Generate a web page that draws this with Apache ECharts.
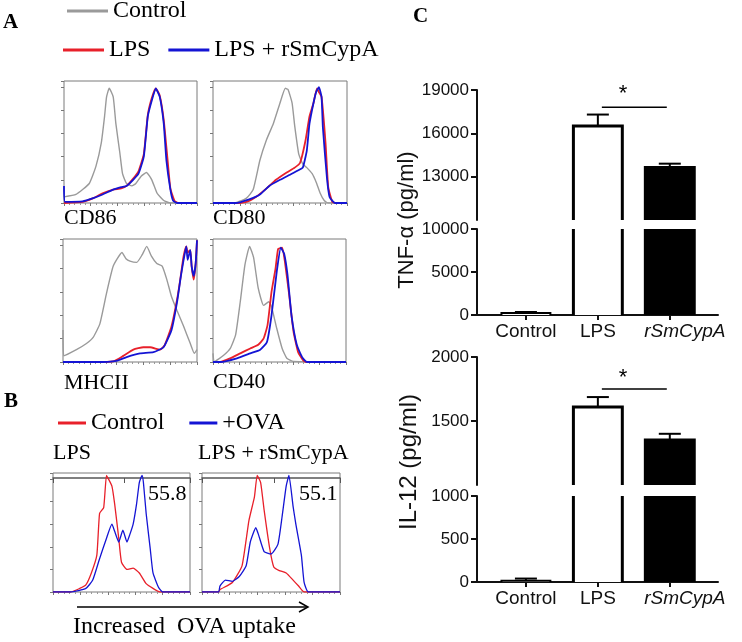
<!DOCTYPE html>
<html>
<head>
<meta charset="utf-8">
<script src="https://cdn.jsdelivr.net/npm/echarts@6/dist/echarts.min.js"></script>
<style>html,body{margin:0;padding:0;background:#fff}#c{width:742px;height:642px}</style>
</head>
<body>
<div id="c"></div>
<script>
// ---------- DATA ----------
// Panel A histograms: [x (% of channel range), y (% of max count)]
const cd86Control = [[0,5],[9,7],[19,16],[24,30],[28,49],[30.5,71],[32,87],[34,94],[37,87],[39,65],[42,41],[44,24],[47,16],[51,14],[54,16],[58,22],[62,25],[66,19],[70,8],[75,2],[80,0],[100,0]];
const cd86Lps = [[0,0],[14,1],[22,4],[29,8],[37,11],[43,12],[47,14],[52,20],[56,26],[60,40],[63,72],[66,86],[69,94],[72,88],[75,68],[78,34],[80,12],[83,2],[86,0],[100,0]];
const cd86Cyp = [[0,14],[0.8,1],[14,1.4],[22,4],[29,7],[37,11],[43,13],[47,14],[52,19],[56,24],[60,38],[63,71],[66,84],[69,94],[72,87],[75,65],[77,35],[80,11],[82,2],[85,0],[100,0]];

const cd80Control = [[0,0],[16,0],[25,4],[30,11],[35,35],[40,52],[45,65],[50,82],[54,94],[56,93],[59,82],[61,63],[64,40],[67,32],[70,29],[74,24],[77,17],[80,8],[83,2],[86,0],[100,0]];
const cd80Lps = [[0,0],[16,0],[25,1],[32,5],[40,12],[47,19],[55,25],[61,29],[65,33],[69,51],[72,71],[75,82],[77.6,94],[79,91],[81,87],[84,49],[86,13],[89,1],[92,0],[100,0]];
const cd80Cyp = [[0,0],[17,0],[27,3],[35,7],[42,14],[50,19],[57,23],[64,27],[67,29],[70,43],[72,65],[75,82],[77,91],[79,95],[81,87],[82,62],[85,21],[87,5],[91,0],[100,0]];

const mhcControl = [[0,26],[0.5,5],[10,10],[17.5,15],[22.5,20],[27.5,31],[32.5,56],[37.5,78],[44,89],[47,84],[50,82],[55,81],[59,87],[62.5,94],[66,86],[70,80],[74,78],[77.5,67],[81,53],[85,42],[90,29],[95,15],[98,7],[100,10]];
const mhcLps = [[0,0],[22.5,0],[37.5,0.5],[45,5],[52.5,10],[60,12],[65,12],[72.5,10],[76,14],[81,29],[85,50],[87.5,67],[90,86],[92,94],[93,89],[95,91],[96,78],[97.5,67],[99,80],[100,99]];
const mhcCyp = [[0,0],[25,0],[40,1],[47.5,4],[57.5,7],[67.5,8],[75,12],[81,26],[85,48],[88,70],[90,83],[92,94],[93,83],[95,91],[96,78],[97.5,70],[99,80],[100,99]];

const cd40Control = [[0,7],[1,0.5],[8,5.5],[13,11],[17,22],[20.5,49],[24,79],[27.5,94],[30.5,85],[34,60],[38,46],[42,49],[44,45],[48,27],[52,11],[55.5,3],[60.5,0.5],[100,0]];
const cd40Lps = [[0,0],[5.5,0],[13,3],[20.5,7],[28,11],[34,14],[38,19],[41,30],[44,57],[47,76],[49,92],[52,93],[54,82],[57,57],[60.5,25],[64,8],[68,1],[70.5,0],[100,0]];
const cd40Cyp = [[0,0],[5.5,0],[18,3],[28,7],[35.5,10],[40.5,16],[44,38],[48,74],[51,93],[53.5,88],[56,71],[59,38],[63,14],[67,4],[70.5,0],[100,0]];

// Panel B histograms
const bLpsControl = [[0,0],[13,0],[19.5,3],[24,6],[28,16],[32,31],[34,66],[37,71],[39,98],[40,96],[43,89],[45,74],[48,45],[50,25],[54,19],[58.5,20],[63,16],[68,7],[73,3],[78,0],[100,0]];
const bLpsOva = [[0,0],[13,0],[24,3],[29,10],[34,28],[39,45],[43,57],[45,51],[48,42],[51,52],[54,42],[56,48],[58.5,57],[61,74],[63,92],[65,98],[66,92],[68,66],[71,36],[73,16],[77,4],[80,0],[100,0]];
const bCypControl = [[0,0],[12,0],[13,2],[22,8],[29,22],[34,60],[38,80],[40,98],[42.5,92],[45,69],[49,37],[52,21],[56,18],[61,16],[66,10],[70,5],[74,0],[100,0]];
const bCypOva = [[0,0],[12,0],[13,5],[17,10],[22,9],[27,13],[32,22],[35,42],[39,54],[41,48],[45,34],[50,32],[55,40],[58,63],[61,89],[63,98],[66,72],[68,57],[72,31],[74,8],[77,0],[100,0]];
const bPercent = ['55.8', '55.1'];

// Panel C bar data
const categories = ['Control', 'LPS', 'rSmCypA'];
const tnfMean = [220, 16500, 13640];
const tnfSem = [130, 800, 260];
const il12Mean = [15, 1610, 1352];
const il12Sem = [25, 77, 48];
const tnfUpperTicks = [13000, 16000, 19000];
const il12UpperTicks = [1500, 2000];
const tnfSig = [1, 2, 17800, 18700];   // from cat, to cat, line value, star value
const il12Sig = [1, 2, 1750, 1840];

// ---------- STYLE ----------
const SERIF = "'Liberation Serif','Times New Roman',serif";
const SANS = "'Liberation Sans',Arial,sans-serif";
const GRAY = '#9a9a9a', RED = '#e8202a', BLUE = '#1414d4';
const barFill = ['#ffffff', '#ffffff', '#000000'];
const barBorder = [2, 3, 3];
const legendText = {ctrlA: 'Control', lpsA: 'LPS', cypA: 'LPS + rSmCypA', ctrlB: 'Control', ovaB: '+OVA'};

const chart = echarts.init(document.getElementById('c'), null, {renderer: 'canvas'});

const histGrids = [
  {left: 64, top: 81, width: 133, height: 122},
  {left: 213, top: 81, width: 134, height: 122},
  {left: 63, top: 239, width: 134, height: 123},
  {left: 213, top: 239, width: 133, height: 123},
  {left: 53, top: 473, width: 137, height: 119},
  {left: 202, top: 473, width: 138, height: 119}
];
const barGrids = [
  {left: 477, top: 90, width: 241, height: 130},
  {left: 477, top: 229, width: 241, height: 86},
  {left: 477, top: 357, width: 241, height: 128},
  {left: 477, top: 496, width: 241, height: 86}
];
const grid = histGrids.map(g => Object.assign({show: true, borderColor: '#7a7a7a', borderWidth: 1, backgroundColor: 'transparent'}, g))
  .concat(barGrids.map(g => Object.assign({show: false}, g)));

const xAxis = [], yAxis = [];
histGrids.forEach((g, i) => {
  xAxis.push({gridIndex: i, type: 'value', min: 0, max: 100, interval: 20,
    axisLine: {show: false, onZero: false}, axisLabel: {show: false}, splitLine: {show: false},
    axisTick: {show: true, length: 3, lineStyle: {color: '#777'}},
    minorTick: {show: true, splitNumber: 5, length: 2, lineStyle: {color: '#999'}}});
  yAxis.push({gridIndex: i, type: 'value', min: 0, max: 100, interval: 19,
    axisLine: {show: false, onZero: false}, axisLabel: {show: false}, splitLine: {show: false},
    axisTick: {show: true, length: 3, lineStyle: {color: '#777'}}});
});
const axisBlack = {color: '#111', width: 2};
[0, 1, 2, 3].forEach(k => {
  const lower = (k % 2 === 1);
  xAxis.push({gridIndex: 6 + k, type: 'value', min: -0.68, max: 2.67, show: lower,
    axisLine: {show: true, onZero: false, lineStyle: axisBlack},
    axisTick: {show: true, customValues: [0, 1, 2], length: 5, lineStyle: axisBlack},
    splitLine: {show: false},
    axisLabel: {customValues: [0, 1, 2], margin: 7, fontFamily: SANS, fontSize: 19, color: '#111',
      formatter: v => { const c = categories[Math.round(v)]; return Math.round(v) === 2 ? '{it|' + c + '}' : c; },
      rich: {it: {fontStyle: 'italic', fontFamily: SANS, fontSize: 19, color: '#111', padding: [0, 0, 0, 30]}}}
  });
});
const barY = [
  {min: 10000, max: 19000, custom: tnfUpperTicks},
  {min: 0, max: 10000, interval: 5000},
  {min: 1000, max: 2000, custom: il12UpperTicks},
  {min: 0, max: 1000, interval: 500}
];
barY.forEach((b, k) => {
  const ax = {gridIndex: 6 + k, type: 'value', min: b.min, max: b.max,
    axisLine: {show: true, onZero: false, lineStyle: axisBlack},
    axisTick: {show: true, length: 6, lineStyle: axisBlack},
    splitLine: {show: false},
    axisLabel: {margin: 8, fontFamily: SANS, fontSize: 17, color: '#111', formatter: v => String(v)}};
  if (b.custom) { ax.axisTick.customValues = b.custom; ax.axisLabel.customValues = b.custom; }
  else ax.interval = b.interval;
  yAxis.push(ax);
});
// top gate axes for panel B
[4, 5].forEach(i => {
  xAxis.push({gridIndex: i, type: 'value', position: 'top', min: 0, max: 100, offset: -5,
    axisLine: {show: true, onZero: false, lineStyle: {color: '#555', width: 1.5}},
    axisTick: {show: true, inside: true, customValues: [0, 52, 100], length: 5, lineStyle: {color: '#555'}},
    axisLabel: {show: false}, splitLine: {show: false}});
});

function hist(name, data, color, gi, w) {
  return {type: 'line', name, data, xAxisIndex: gi, yAxisIndex: gi, symbol: 'none', showSymbol: false,
    smooth: 0.15, silent: true, lineStyle: {color, width: w}, itemStyle: {color}};
}
const series = [];
[[cd86Control, cd86Lps, cd86Cyp], [cd80Control, cd80Lps, cd80Cyp], [mhcControl, mhcLps, mhcCyp], [cd40Control, cd40Lps, cd40Cyp]]
  .forEach((set, gi) => {
    series.push(hist('ctrlA', set[0], GRAY, gi, 1.4));
    series.push(hist('lpsA', set[1], RED, gi, 1.8));
    series.push(hist('cypA', set[2], BLUE, gi, 1.8));
  });
[[bLpsControl, bLpsOva], [bCypControl, bCypOva]].forEach((set, k) => {
  series.push(hist('ctrlB', set[0], RED, 4 + k, 1.3));
  series.push(hist('ovaB', set[1], BLUE, 4 + k, 1.3));
});

function barRender(params, api) {
  const i = api.value(0), v = api.value(1);
  const cs = params.coordSys;
  const top = cs.y, bottom = cs.y + cs.height;
  const p = api.coord([i, v]);
  if (p[1] > bottom) return null;
  const half = api.size([1, 0])[0] * 0.34;
  const clipped = p[1] < top;
  const y = clipped ? top : p[1];
  const l = p[0] - half, r = p[0] + half;
  const lw = barBorder[i];
  const children = [{type: 'rect', shape: {x: l, y: y, width: r - l, height: bottom - y}, style: {fill: barFill[i]}}];
  if (clipped) {
    children.push({type: 'line', shape: {x1: l, y1: y, x2: l, y2: bottom}, style: {stroke: '#000', lineWidth: lw}});
    children.push({type: 'line', shape: {x1: r, y1: y, x2: r, y2: bottom}, style: {stroke: '#000', lineWidth: lw}});
  } else {
    children.push({type: 'polyline', shape: {points: [[l, bottom], [l, y], [r, y], [r, bottom]]}, style: {stroke: '#000', lineWidth: lw, fill: null}});
  }
  return {type: 'group', children};
}
function errRender(params, api) {
  const i = api.value(0), v = api.value(1), e = api.value(2);
  const cs = params.coordSys;
  const p0 = api.coord([i, v]), p1 = api.coord([i, v + e]);
  if (p0[1] < cs.y - 0.5 || p0[1] > cs.y + cs.height + 0.5) return null;
  return {type: 'group', children: [
    {type: 'line', shape: {x1: p0[0], y1: p0[1], x2: p1[0], y2: p1[1]}, style: {stroke: '#000', lineWidth: 2}},
    {type: 'line', shape: {x1: p1[0] - 11, y1: p1[1], x2: p1[0] + 11, y2: p1[1]}, style: {stroke: '#000', lineWidth: 2}}
  ]};
}
function sigRender(params, api) {
  const a = api.value(0), b = api.value(1), yl = api.value(2), ys = api.value(3);
  const p1 = api.coord([a, yl]), p2 = api.coord([b, yl]);
  const ps = api.coord([(a + b) / 2 - 0.15, ys]);
  return {type: 'group', children: [
    {type: 'line', shape: {x1: p1[0] + 4, y1: p1[1], x2: p2[0] - 3, y2: p2[1]}, style: {stroke: '#000', lineWidth: 1.5}},
    {type: 'text', x: ps[0], y: ps[1], style: {text: '*', fontFamily: SANS, fontSize: 22, fill: '#000', align: 'center', verticalAlign: 'middle'}}
  ]};
}
const tnfBars = categories.map((c, i) => [i, tnfMean[i]]);
const tnfErr = categories.map((c, i) => [i, tnfMean[i], tnfSem[i]]);
const ilBars = categories.map((c, i) => [i, il12Mean[i]]);
const ilErr = categories.map((c, i) => [i, il12Mean[i], il12Sem[i]]);
[[tnfBars, tnfErr, tnfSig, 6], [ilBars, ilErr, il12Sig, 8]].forEach(([bars, errs, sig, g0]) => {
  [g0, g0 + 1].forEach(g => {
    series.push({type: 'custom', name: 'bar' + g, xAxisIndex: g, yAxisIndex: g, data: bars, renderItem: barRender, silent: true, z: 2});
    series.push({type: 'custom', name: 'err' + g, xAxisIndex: g, yAxisIndex: g, data: errs, renderItem: errRender, silent: true, z: 3});
  });
  series.push({type: 'custom', name: 'sig' + g0, xAxisIndex: g0, yAxisIndex: g0, data: [sig], renderItem: sigRender, silent: true, z: 4});
});

const legendBase = {padding: 0, icon: 'rect', itemHeight: 3, selectedMode: false,
  formatter: n => legendText[n], textStyle: {fontFamily: SERIF, fontSize: 24, color: '#000'}};
const legend = [
  Object.assign({}, legendBase, {data: ['ctrlA'], left: 67, top: -1, itemWidth: 41}),
  Object.assign({}, legendBase, {data: ['lpsA', 'cypA'], left: 63, top: 38, itemWidth: 41, itemGap: 18}),
  Object.assign({}, legendBase, {data: ['ctrlB', 'ovaB'], left: 58, top: 411, itemWidth: 28, itemGap: 25})
];

function txt(x, y, text, size, opts) {
  return {type: 'text', x, y, silent: true, style: Object.assign({text, fontFamily: SERIF, fontSize: size, fill: '#000', align: 'left', verticalAlign: 'middle'}, opts || {})};
}
const graphic = [
  txt(3, 23, 'A', 21, {fontWeight: 'bold'}),
  txt(4, 402, 'B', 21, {fontWeight: 'bold'}),
  txt(413, 17, 'C', 21, {fontWeight: 'bold'}),
  txt(64, 218, 'CD86', 22), txt(213, 218, 'CD80', 22),
  txt(64, 383, 'MHCII', 22), txt(213, 382, 'CD40', 22),
  txt(53, 453, 'LPS', 22), txt(198, 453, 'LPS + rSmCypA', 22),
  txt(148, 494, bPercent[0], 22), txt(299, 494, bPercent[1], 22),
  txt(73, 627, 'Increased  OVA uptake', 24),
  {type: 'polyline', silent: true, shape: {points: [[77, 607], [307, 607]]}, style: {stroke: '#000', lineWidth: 1.5}},
  {type: 'polyline', silent: true, shape: {points: [[299, 602], [308, 607], [299, 612]]}, style: {stroke: '#000', lineWidth: 1.5, fill: null}},
  {type: 'text', x: 407, y: 220, rotation: Math.PI / 2, silent: true, style: {text: 'TNF-α (pg/ml)', fontFamily: SANS, fontSize: 22, fill: '#111', align: 'center', verticalAlign: 'middle'}},
  {type: 'text', x: 409, y: 462, rotation: Math.PI / 2, silent: true, style: {text: 'IL-12 (pg/ml)', fontFamily: SANS, fontSize: 24, fill: '#111', align: 'center', verticalAlign: 'middle'}}
];

chart.setOption({animation: false, backgroundColor: '#fff', grid, xAxis, yAxis, legend, series, graphic});
</script>
</body>
</html>
